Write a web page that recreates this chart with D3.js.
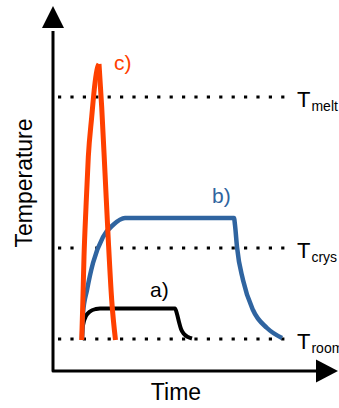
<!DOCTYPE html>
<html><head><meta charset="utf-8">
<script src="https://cdn.jsdelivr.net/npm/d3@7"></script>
<style>html,body{margin:0;padding:0;background:#fff;}svg{display:block;}</style>
</head><body>
<script>
// Time (t) and temperature (T) in arbitrary units
const levels = [
  {name: "melt", T: 274},
  {name: "crys", T: 123},
  {name: "room", T: 32}
];
const seriesA_t = [29, 29.5, 30.5, 33, 37, 43, 47, 122, 124, 126, 128, 131, 135, 139];
const seriesA_T = [32, 42, 48, 55, 59.5, 62, 62.5, 62.5, 57, 49, 42, 37, 34, 32.5];
const seriesB_t = [29, 30, 34, 40, 50, 60, 72, 181, 182, 184, 190, 200, 214, 229];
const seriesB_T = [32, 58, 81, 108, 134, 146, 153, 153, 146, 124, 91, 61, 43, 33];
const seriesC_up_t = [28.7, 29.7, 31, 33, 35.3, 38.7, 42, 44.7, 46];
const seriesC_up_T = [31, 64, 114, 164, 214, 254, 288, 304, 307];
const seriesC_down_t = [46, 48.7, 52, 55.3, 58.7, 62.5];
const seriesC_down_T = [307, 264, 198, 131, 71, 31];
const labels = ["a)", "b)", "c)"];
const axisTitles = ["Time", "Temperature"];

const W = 339, H = 408;
const x = d3.scaleLinear().domain([0, 285]).range([53, 338]);
const y = d3.scaleLinear().domain([0, 360]).range([371, 11]);

const svg = d3.select("body").append("svg").attr("width", W).attr("height", H);
const font = "'Liberation Sans', Arial, sans-serif";

// dotted reference levels
svg.selectAll("line.lvl").data(levels).join("line")
  .attr("x1", x(5)).attr("x2", x(233))
  .attr("y1", d => y(d.T)).attr("y2", d => y(d.T))
  .attr("stroke", "#000").attr("stroke-width", 3.2)
  .attr("stroke-dasharray", "3.2,9.2");

const lvlText = svg.selectAll("text.lvl").data(levels).join("text")
  .attr("x", x(244)).attr("y", d => y(d.T) + 10)
  .attr("font-family", font).attr("font-size", 22).attr("fill", "#000");
lvlText.append("tspan").text("T");
lvlText.append("tspan").attr("dy", 4).attr("font-size", 14).attr("dx", 1).text(d => d.name);

const zip = (ts, Ts) => ts.map((t, i) => [t, Ts[i]]);
const line = d3.line().x(d => x(d[0])).y(d => y(d[1])).curve(d3.curveMonotoneX);

const drawn = [
  {pts: zip(seriesA_t, seriesA_T), color: "#000", w: 4},
  {pts: zip(seriesB_t, seriesB_T), color: "#2f64a0", w: 4.5},
  {pts: zip(seriesC_up_t, seriesC_up_T), color: "#ff4000", w: 5},
  {pts: zip(seriesC_down_t, seriesC_down_T), color: "#ff4000", w: 5}
];
svg.selectAll("path.s").data(drawn).join("path")
  .attr("d", d => line(d.pts))
  .attr("fill", "none").attr("stroke", d => d.color).attr("stroke-width", d => d.w)
  .attr("stroke-linejoin", "miter");

// labels
const labelPos = [[97, 74, "#000"], [159, 168, "#2f64a0"], [61, 301, "#ff4000"]];
svg.selectAll("text.lab").data(labels).join("text")
  .attr("x", (d, i) => x(labelPos[i][0])).attr("y", (d, i) => y(labelPos[i][1]))
  .attr("font-family", font).attr("font-size", 21)
  .attr("fill", (d, i) => labelPos[i][2]).text(d => d);

// axes
svg.append("path")
  .attr("d", `M${x(0)},${y(340)} L${x(0)},${y(0)} L${x(265)},${y(0)}`)
  .attr("fill", "none").attr("stroke", "#000").attr("stroke-width", 3)
  .attr("stroke-linejoin", "round");
svg.append("path")
  .attr("d", `M${x(0) - 11},${y(343)} L${x(0) + 11},${y(343)} L${x(0)},${y(365)} Z`)
  .attr("fill", "#000");
svg.append("path")
  .attr("d", `M${x(263)},${y(0) - 11.5} L${x(263)},${y(0) + 11.5} L${x(285)},${y(0)} Z`)
  .attr("fill", "#000");

svg.append("text").attr("x", 176).attr("y", 400)
  .attr("text-anchor", "middle").attr("font-family", font).attr("font-size", 23)
  .text(axisTitles[0]);
svg.append("text").attr("transform", "translate(32,183) rotate(-90)")
  .attr("text-anchor", "middle").attr("font-family", font).attr("font-size", 23)
  .text(axisTitles[1]);
</script>
</body></html>
